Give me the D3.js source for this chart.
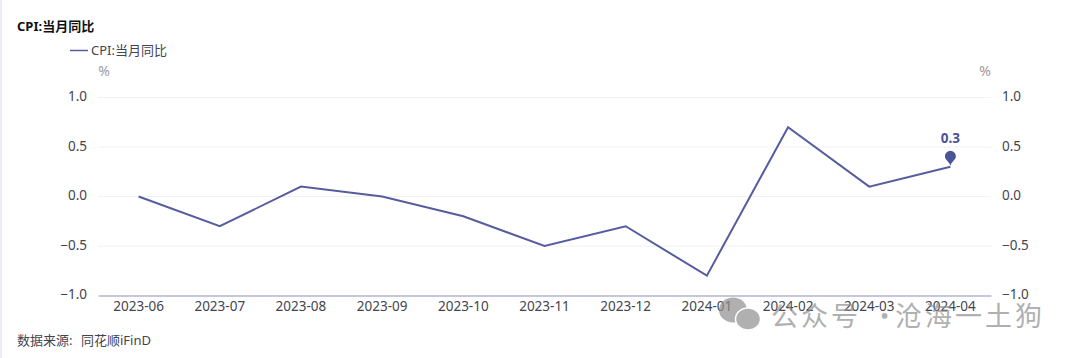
<!DOCTYPE html>
<html>
    <head>
        <meta charset="utf-8">
        <style>
          html, body { margin: 0; padding: 0; background: #fff; }
          svg { display: block; }
          text { font-family: "Noto Sans", "Noto Sans CJK SC", sans-serif; }
        </style>
    </head>
    <body>
        <script src="https://d3js.org/d3.v7.min.js"></script>
        <script>
          const months = ['2023-06', '2023-07', '2023-08', '2023-09', '2023-10', '2023-11',
            '2023-12', '2024-01', '2024-02', '2024-03', '2024-04'];
          const cpiYoY = [0, -0.3, 0.1, 0, -0.2, -0.5, -0.3, -0.8, 0.7, 0.1, 0.3];
          const yTicks = [-1, -0.5, 0, 0.5, 1];
          const seriesName = 'CPI:当月同比';
          const sourceNote = '数据来源:';
          const sourceName = '同花顺iFinD';
          const watermarkParts = ['公众号', '·', '沧海一土狗'];

          const width = 1080;
          const height = 358;
          const lineColor = '#565d9e';
          const textColor = '#44444f';

          const svg = d3.select('body').append('svg')
            .attr('width', width)
            .attr('height', height);

          // thin lavender edge on the left of the picture
          svg.append('rect').attr('width', 2).attr('height', height).attr('fill', '#ecebfa');

          const x = d3.scaleBand().domain(months).range([98, 991]);
          const y = d3.scaleLinear().domain([-1, 1]).range([295.5, 97.5]);
          const xPos = d => x(d) + x.bandwidth() / 2;

          // gridlines
          svg.append('g')
            .selectAll('line')
            .data(yTicks.filter(d => d !== -1))
            .join('line')
            .attr('x1', 98)
            .attr('x2', 991)
            .attr('y1', d => y(d))
            .attr('y2', d => y(d))
            .attr('stroke', '#f1f1f7');

          // x axis
          const xAxis = svg.append('g')
            .attr('transform', `translate(0,${y(-1)})`)
            .call(d3.axisBottom(x).tickSize(0).tickPadding(6));
          xAxis.select('.domain').attr('stroke', '#8b90b8').attr('stroke-width', 1.2);
          xAxis.selectAll('text').attr('font-size', 13.5).attr('fill', textColor);

          // both value axes, labels sit a pixel above their gridline
          const yFormat = d3.format('.1f');
          const styleY = g => {
            g.select('.domain').remove();
            g.selectAll('text').attr('font-size', 13.5).attr('fill', textColor).attr('dy', '0.25em');
          };
          svg.append('g')
            .attr('transform', 'translate(87,0)')
            .call(d3.axisLeft(y).tickValues(yTicks).tickFormat(yFormat).tickSize(0).tickPadding(0))
            .call(styleY);
          svg.append('g')
            .attr('transform', 'translate(1002,0)')
            .call(d3.axisRight(y).tickValues(yTicks).tickFormat(yFormat).tickSize(0).tickPadding(0))
            .call(styleY);

          // axis units
          svg.selectAll('.unit')
            .data([104, 985])
            .join('text')
            .attr('class', 'unit')
            .attr('x', d => d)
            .attr('y', 76)
            .attr('text-anchor', 'middle')
            .attr('font-size', 14)
            .attr('fill', '#9a9aa3')
            .text('%');

          // series line
          const line = d3.line()
            .x((d, i) => xPos(months[i]))
            .y(d => y(d));
          svg.append('path')
            .datum(cpiYoY)
            .attr('fill', 'none')
            .attr('stroke', lineColor)
            .attr('stroke-width', 2)
            .attr('d', line);

          // pin on the last point
          const lastIndex = cpiYoY.length - 1;
          const pinX = xPos(months[lastIndex]);
          const pinY = y(cpiYoY[lastIndex]);
          svg.append('path')
            .attr('transform', `translate(${pinX},${pinY})`)
            .attr('d', 'M0,-1 C-1,-5 -5.5,-7 -5.5,-10.5 A5.5,5.5 0 1 1 5.5,-10.5 C5.5,-7 1,-5 0,-1 Z')
            .attr('fill', '#4a5397');
          svg.append('text')
            .attr('x', pinX)
            .attr('y', pinY - 24)
            .attr('text-anchor', 'middle')
            .attr('font-size', 13.5)
            .attr('font-weight', 700)
            .attr('fill', '#4a5397')
            .text(d3.format('.1f')(cpiYoY[lastIndex]));

          // title and legend
          svg.append('text')
            .attr('x', 17)
            .attr('y', 31)
            .attr('font-size', 13)
            .attr('font-weight', 700)
            .attr('fill', '#111')
            .text(seriesName);
          svg.append('line')
            .attr('x1', 70)
            .attr('x2', 88)
            .attr('y1', 50.5)
            .attr('y2', 50.5)
            .attr('stroke', lineColor)
            .attr('stroke-width', 1.5);
          svg.append('text')
            .attr('x', 91)
            .attr('y', 55)
            .attr('font-size', 13)
            .attr('fill', textColor)
            .text(seriesName);

          // source note
          svg.append('text')
            .attr('x', 17)
            .attr('y', 345)
            .attr('font-size', 13)
            .attr('fill', textColor)
            .text(sourceNote);
          svg.append('text')
            .attr('x', 81)
            .attr('y', 345)
            .attr('font-size', 13)
            .attr('fill', textColor)
            .text(sourceName);

          // watermark, semi transparent over the chart
          const mark = svg.append('g').attr('fill', '#8f8f8f').attr('opacity', 0.7);
          mark.append('ellipse').attr('cx', 733).attr('cy', 310).attr('rx', 14).attr('ry', 12.5);
          mark.append('ellipse').attr('cx', 748).attr('cy', 319).attr('rx', 12.5).attr('ry', 11)
            .attr('stroke', '#fff').attr('stroke-width', 1.5);
          mark.selectAll('text')
            .data(watermarkParts)
            .join('text')
            .attr('x', (d, i) => [771, 871, 895][i])
            .attr('y', 326)
            .attr('font-size', 27)
            .attr('letter-spacing', 3)
            .style('font-family', '"Noto Sans CJK SC"')
            .text(d => d);
        </script>
    </body>
</html>
